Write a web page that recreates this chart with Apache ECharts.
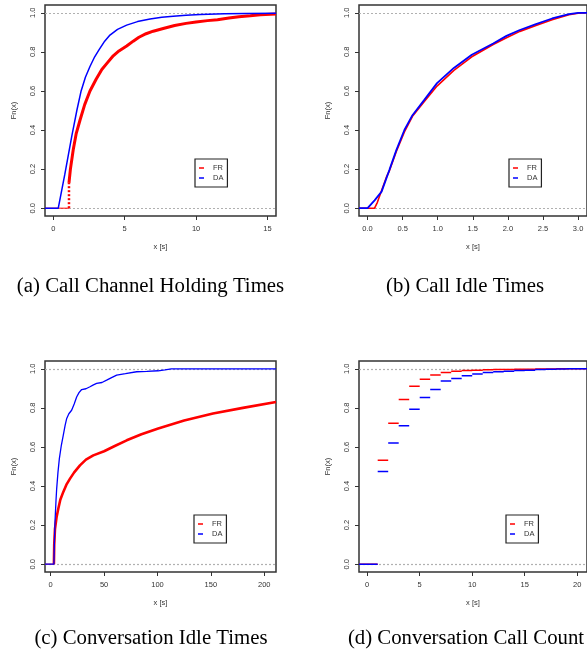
<!DOCTYPE html>
<html>
<head>
<meta charset="utf-8">
<title>ECDF</title>
<script src="https://cdn.jsdelivr.net/npm/echarts@6/dist/echarts.min.js"></script>
<style>html,body{margin:0;padding:0;background:#fff;}</style>
</head>
<body>
<div id="main" style="width:587px;height:656px;"></div>
<script type="text/javascript">
// (a) Call Channel Holding Times
var holdFRflat = [[-0.58, 0], [1.1, 0]];
var holdFRjump = [[1.1, 0], [1.1, 0.13]];
var holdFR = [[1.1,0.13],[1.2,0.2],[1.4,0.30],[1.6,0.38],[1.87,0.45],[2.2,0.53],[2.57,0.60],[3.0,0.66],[3.4,0.71],[3.74,0.74],[4.2,0.78],[4.6,0.805],[5.14,0.83],[5.6,0.855],[6.0,0.875],[6.5,0.893],[7.0,0.906],[7.7,0.92],[8.5,0.935],[9.3,0.946],[10,0.953],[10.8,0.96],[11.5,0.965],[12.3,0.973],[13,0.98],[13.8,0.985],[14.5,0.99],[15.6,0.994]];
var holdDA = [[-0.58,0],[0.35,0],[0.8,0.17],[1.3,0.37],[1.65,0.5],[1.95,0.6],[2.25,0.67],[2.57,0.725],[2.9,0.775],[3.2,0.81],[3.6,0.855],[3.97,0.886],[4.5,0.915],[5.14,0.937],[5.9,0.955],[6.78,0.968],[7.6,0.977],[8.4,0.983],[9.3,0.988],[10.3,0.992],[12,0.995],[13.5,0.997],[15.6,0.998]];

// (b) Call Idle Times
var idleFR = [[-0.122,0],[0.1,0],[0.14,0.03],[0.2,0.09],[0.27,0.16],[0.31,0.19],[0.41,0.29],[0.525,0.39],[0.64,0.47],[0.806,0.545],[0.99,0.625],[1.23,0.705],[1.485,0.775],[1.79,0.838],[1.98,0.872],[2.17,0.905],[2.40,0.935],[2.63,0.965],[2.87,0.99],[3.0,0.998],[3.127,1.0]];
var idleDA = [[-0.122,0],[0,0],[0.1,0.04],[0.2,0.085],[0.31,0.195],[0.41,0.297],[0.525,0.40],[0.64,0.476],[0.806,0.553],[0.99,0.64],[1.23,0.718],[1.485,0.785],[1.79,0.843],[1.98,0.882],[2.17,0.912],[2.40,0.942],[2.63,0.971],[2.87,0.993],[3.0,1.0],[3.127,1.0]];

// (c) Conversation Idle Times
var convFRflat = [[-5.34,0],[3,0]];
var convFR = [[3,0],[3.3,0.1],[4,0.18],[5.5,0.24],[7.1,0.284],[9,0.33],[11.8,0.37],[15,0.41],[18.1,0.438],[22,0.47],[27.4,0.506],[33,0.535],[39.9,0.557],[50,0.578],[60,0.605],[71.2,0.634],[85,0.665],[100.7,0.695],[125,0.735],[152,0.771],[180,0.80],[211,0.83]];
var convDA = [[-5.34,0],[3,0],[3.5,0.12],[4,0.215],[5,0.33],[5.6,0.387],[6.8,0.47],[8.1,0.54],[10,0.61],[11.8,0.66],[13.5,0.71],[15,0.746],[17,0.77],[19.6,0.788],[22,0.82],[24.3,0.856],[26.5,0.878],[29,0.894],[33,0.898],[36.8,0.908],[40,0.918],[43,0.925],[48,0.93],[52.4,0.942],[57,0.955],[61.8,0.968],[70,0.975],[80.5,0.985],[90,0.987],[100.7,0.99],[107,0.995],[113,1.0],[211,1.0]];

// (d) Conversation Call Count : step values on [k, k+1)
var counts = [1,2,3,4,5,6,7,8,9,10,11,12,13,14,15,16,17,18,19,20];
var countFR = [0.532,0.721,0.843,0.911,0.947,0.968,0.981,0.987,0.991,0.993,0.995,0.996,0.997,0.998,0.998,0.999,0.999,1.0,1.0,1.0];
var countDA = [0.475,0.620,0.708,0.793,0.853,0.894,0.938,0.951,0.964,0.973,0.981,0.985,0.988,0.991,0.993,0.996,0.998,0.999,1.0,1.0];

var yTicks = [0, 0.2, 0.4, 0.6, 0.8, 1.0];
var captions = ['(a) Call Channel Holding Times', '(b) Call Idle Times', '(c) Conversation Idle Times', '(d) Conversation Call Count'];

var RED = '#ff0000', BLUE = '#0000ff', INK = '#333';
var SANS = 'Liberation Sans';

function steps(vals, left, right) {
    var out = [[left, 0], [counts[0], 0], [counts[0], '-']];
    for (var i = 0; i < counts.length; i++) {
        var end = i < counts.length - 1 ? counts[i] + 1 : right;
        out.push([counts[i], vals[i]], [end, vals[i]], [end, '-']);
    }
    return out;
}

function xAxis(g, min, max, ticks, dec) {
    return {
        type: 'value', gridIndex: g, min: min, max: max,
        name: 'x [s]', nameLocation: 'middle', nameGap: 27,
        nameTextStyle: {fontSize: 7.5, color: INK, fontFamily: SANS},
        axisLine: {show: false, onZero: false},
        axisTick: {show: true, length: 4, customValues: ticks, lineStyle: {color: INK}},
        axisLabel: {customValues: ticks, margin: 9, fontSize: 7.5, color: INK, fontFamily: SANS,
            formatter: function (v) { return v.toFixed(dec); }},
        splitLine: {show: false}
    };
}
function yAxis(g) {
    return {
        type: 'value', gridIndex: g, min: -0.04, max: 1.04,
        name: 'Fn(x)', nameLocation: 'middle', nameGap: 27, nameRotate: 90,
        nameTextStyle: {fontSize: 7.5, color: INK, fontFamily: SANS},
        axisLine: {show: false, onZero: false},
        axisTick: {show: true, length: 4, customValues: yTicks, lineStyle: {color: INK}},
        axisLabel: {customValues: yTicks, margin: 8, rotate: 90, fontSize: 7.5, color: INK, fontFamily: SANS,
            formatter: function (v) { return v.toFixed(1); }},
        splitLine: {show: false}
    };
}
function line(name, g, data, color, width, type, z) {
    return {
        type: 'line', name: name, xAxisIndex: g, yAxisIndex: g, data: data,
        showSymbol: false, symbol: 'none', animation: false, z: z || 3,
        lineStyle: {color: color, width: width, type: type || 'solid'},
        itemStyle: {color: color}
    };
}
function guides(s) {
    s.markLine = {
        silent: true, symbol: 'none', z: 1, animation: false,
        label: {show: false},
        lineStyle: {color: '#b0b0b0', width: 1.2, type: [2, 2]},
        data: [{yAxis: 0}, {yAxis: 1}]
    };
    return s;
}
function legendAt(left, top) {
    return {
        orient: 'vertical', left: left, top: top, data: ['FR', 'DA'],
        icon: 'rect', itemWidth: 5, itemHeight: 1.5, itemGap: 2,
        padding: [5, 4, 5, 4], borderColor: '#222', borderWidth: 1.2,
        selectedMode: false,
        textStyle: {fontSize: 7.5, color: INK, fontFamily: SANS, padding: [0, 0, 0, 4]}
    };
}

var grids = [
    {left: 45, top: 5, width: 231, height: 211},
    {left: 359, top: 5, width: 231, height: 211},
    {left: 45, top: 361, width: 231, height: 211},
    {left: 359, top: 361, width: 231, height: 211}
];
grids.forEach(function (g) { g.show = true; g.borderColor = INK; g.borderWidth = 1.5; g.containLabel = false; });

var capPos = [[150.5, 287], [465, 287], [151, 639], [466, 639]];

var myChart = echarts.init(document.getElementById('main'));
myChart.setOption({
    backgroundColor: '#fff',
    animation: false,
    grid: grids,
    xAxis: [
        xAxis(0, -0.58, 15.6, [0, 5, 10, 15], 0),
        xAxis(1, -0.122, 3.127, [0, 0.5, 1, 1.5, 2, 2.5, 3], 1),
        xAxis(2, -5.34, 211, [0, 50, 100, 150, 200], 0),
        xAxis(3, -0.78, 20.93, [0, 5, 10, 15, 20], 0)
    ],
    yAxis: [yAxis(0), yAxis(1), yAxis(2), yAxis(3)],
    legend: [legendAt(195, 159), legendAt(509, 159), legendAt(194, 515), legendAt(506, 515)],
    series: [
        guides(line('FR', 0, holdFRflat, RED, 1, 'solid', 2)),
        line('FR', 0, holdFRjump, RED, 2.5, [2, 2]),
        line('FR', 0, holdFR, RED, 3),
        line('DA', 0, holdDA, BLUE, 1.5, 'solid', 4),

        guides(line('FR', 1, idleFR, RED, 1.6)),
        line('DA', 1, idleDA, BLUE, 1.8, 'solid', 4),

        guides(line('FR', 2, convFRflat, RED, 1, 'solid', 2)),
        line('FR', 2, convFR, RED, 2.6),
        line('DA', 2, convDA, BLUE, 1.3, 'solid', 4),

        guides(line('FR', 3, steps(countFR, -0.78, 20.93), RED, 1.5)),
        line('DA', 3, steps(countDA, -0.78, 20.93), BLUE, 1.5, 'solid', 4)
    ],
    graphic: captions.map(function (t, i) {
        return {
            type: 'text', x: capPos[i][0], y: capPos[i][1],
            style: {text: t, fontSize: 20.8, fontFamily: 'Liberation Serif', fill: '#000',
                align: 'center', verticalAlign: 'middle'}
        };
    })
});
</script>
</body>
</html>
